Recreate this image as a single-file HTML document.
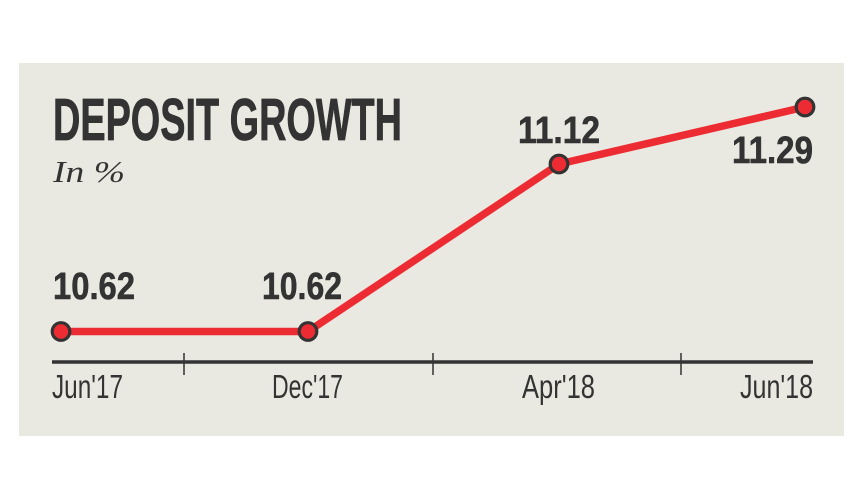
<!DOCTYPE html>
<html><head><meta charset="utf-8"><style>
html,body{margin:0;padding:0;background:#fff;}
svg{display:block;}
</style></head><body>
<svg width="857" height="482" viewBox="0 0 857 482" xmlns="http://www.w3.org/2000/svg">
<rect x="0" y="0" width="857" height="482" fill="#ffffff"/>
<rect x="19" y="63" width="825" height="373" fill="#eae9e1"/>
<text x="53" y="140" font-family="'Liberation Sans Narrow','Liberation Sans',sans-serif" font-weight="bold" font-size="59" fill="#333" stroke="#333" stroke-width="0.8" textLength="349" lengthAdjust="spacingAndGlyphs">DEPOSIT GROWTH</text>
<text x="53" y="182" font-family="'Liberation Serif',serif" font-style="italic" font-size="31" fill="#333" textLength="72" lengthAdjust="spacingAndGlyphs">In %</text>
<line x1="52" y1="362" x2="813" y2="362" stroke="#333" stroke-width="3.5"/>
<line x1="184" y1="353" x2="184" y2="375" stroke="#333" stroke-width="1.5"/>
<line x1="433" y1="353" x2="433" y2="375" stroke="#333" stroke-width="1.5"/>
<line x1="681" y1="353" x2="681" y2="375" stroke="#333" stroke-width="1.5"/>
<g font-family="'Liberation Sans Narrow','Liberation Sans',sans-serif" font-size="33" fill="#333">
<text x="52" y="398" textLength="71" lengthAdjust="spacingAndGlyphs">Jun'17</text>
<text x="272" y="398" textLength="71" lengthAdjust="spacingAndGlyphs">Dec'17</text>
<text x="522" y="398" textLength="73" lengthAdjust="spacingAndGlyphs">Apr'18</text>
<text x="740" y="398" textLength="73" lengthAdjust="spacingAndGlyphs">Jun'18</text>
</g>
<polyline points="61,331.5 308,331.5 559,164 805,107" fill="none" stroke="#ec2b33" stroke-width="7.5" stroke-linejoin="round"/>
<g fill="#ec2b33" stroke="#333" stroke-width="3.2">
<circle cx="61" cy="331.5" r="8.8"/>
<circle cx="308" cy="331.5" r="8.8"/>
<circle cx="559" cy="164" r="8.8"/>
<circle cx="805" cy="107" r="8.8"/>
</g>
<g font-family="'Liberation Sans Narrow','Liberation Sans',sans-serif" font-weight="bold" font-size="38" fill="#333" stroke="#333" stroke-width="0.6">
<text x="53" y="299" textLength="82" lengthAdjust="spacingAndGlyphs">10.62</text>
<text x="262" y="299" textLength="80" lengthAdjust="spacingAndGlyphs">10.62</text>
<text x="518" y="143" textLength="82" lengthAdjust="spacingAndGlyphs">11.12</text>
<text x="732" y="163" textLength="81" lengthAdjust="spacingAndGlyphs">11.29</text>
</g>
</svg>
</body></html>
